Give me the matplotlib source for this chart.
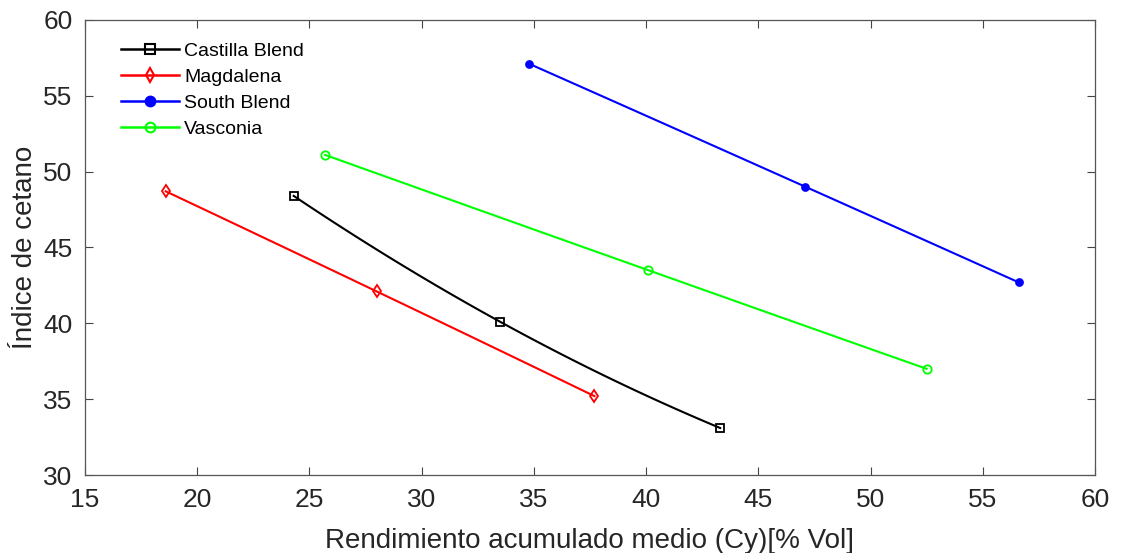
import numpy as np
import matplotlib
matplotlib.use("Agg")
import matplotlib.pyplot as plt

plt.rcParams['font.family'] = ['Liberation Sans', 'DejaVu Sans']

# =========================
# DATA
# =========================
castilla_x = [24.3, 33.5, 43.3]
castilla_y = [48.4, 40.1, 33.1]

magdalena_x = [18.6, 28.0, 37.7]
magdalena_y = [48.7, 42.1, 35.2]

south_x = [34.8, 47.1, 56.6]
south_y = [57.1, 49.0, 42.7]

vasconia_x = [25.7, 40.1, 52.5]
vasconia_y = [51.1, 43.5, 37.0]

series = [
    ("Castilla Blend", castilla_x, castilla_y, "k", "s", "none"),
    ("Magdalena", magdalena_x, magdalena_y, "#ff0000", "d", "none"),
    ("South Blend", south_x, south_y, "#0000ff", "o", "#0000ff"),
    ("Vasconia", vasconia_x, vasconia_y, "#00ff00", "o", "none"),
]

fig = plt.figure(figsize=(11.21, 5.53), dpi=100)
ax = fig.add_axes([0.0758, 0.141, 0.901, 0.823])

for nombre, xs, ys, color, mk, mfc in series:
    # curva suave (ajuste cuadratico) entre los puntos
    coef = np.polyfit(xs, ys, 2)
    xf = np.linspace(xs[0], xs[-1], 100)
    ax.plot(xf, np.polyval(coef, xf), color=color, lw=1.5)
    ms = 5 if mk == "o" and mfc != "none" else 6
    ax.plot(xs, ys, ls="none", marker=mk, color=color, mfc=mfc, ms=ms, mew=1.3)
    # entrada de leyenda
    ax.plot([], [], color=color, lw=1.8, marker=mk, mfc=mfc, ms=7, mew=1.5, label=nombre)

ax.set_xlim(15, 60)
ax.set_ylim(30, 60)
ax.set_xticks(range(15, 61, 5))
ax.set_yticks(range(30, 61, 5))

ax.tick_params(direction="in", top=True, right=True, labelsize=19,
               length=6, width=0.8, color="#444444", labelcolor="#262626", pad=9)
for s in ax.spines.values():
    s.set_color("#555555")
    s.set_linewidth(0.9)

ax.set_xlabel("Rendimiento acumulado medio (Cy)[% Vol]", fontsize=20, color="#262626", labelpad=12)
ax.set_ylabel("Índice de cetano", fontsize=20, color="#262626", labelpad=4)

ax.legend(loc="upper left", frameon=False, fontsize=14, handlelength=3.0,
          handletextpad=0.25, labelspacing=0.42, borderaxespad=0.3,
          bbox_to_anchor=(0.022, 0.98))

fig.savefig("out.png", dpi=100)
